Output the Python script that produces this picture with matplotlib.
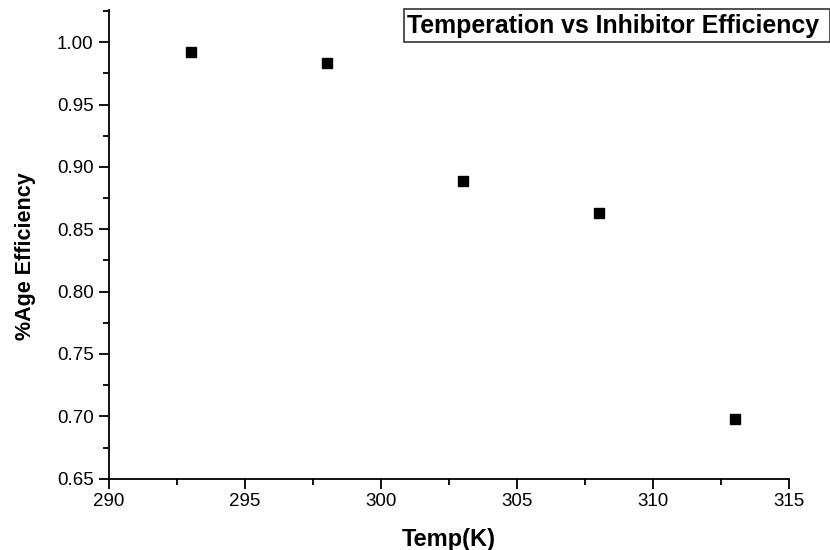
import matplotlib
matplotlib.use("Agg")
import matplotlib.pyplot as plt
from matplotlib.patches import Rectangle
from matplotlib.ticker import MultipleLocator, FormatStrFormatter

plt.rcParams['font.family'] = ['Liberation Sans', 'DejaVu Sans']

temps = [293, 298, 303, 308, 313]
efficiency = [0.992, 0.983, 0.889, 0.863, 0.698]

W, H = 830, 550
fig = plt.figure(figsize=(W / 100, H / 100), dpi=100)
ax = fig.add_axes([109 / W, 1 - 478.7 / H, (789 - 109) / W, (478.7 - 10) / H])

ax.plot(temps, efficiency, linestyle='none', marker='s', markersize=6.5,
        color='black')

ax.set_xlim(290, 315)
ax.set_ylim(0.65, 1.0258)
ax.xaxis.set_major_locator(MultipleLocator(5))
ax.xaxis.set_minor_locator(MultipleLocator(2.5))
ax.yaxis.set_major_locator(MultipleLocator(0.05))
ax.yaxis.set_minor_locator(MultipleLocator(0.025))
ax.yaxis.set_major_formatter(FormatStrFormatter('%.2f'))

for s in ['top', 'right']:
    ax.spines[s].set_visible(False)
for s in ['left', 'bottom']:
    ax.spines[s].set_linewidth(1.3)
ax.tick_params(which='major', direction='out', length=7, width=1.3,
               labelsize=13.5, pad=4)
ax.tick_params(which='minor', direction='out', length=4, width=1.3)
ax.tick_params(axis='x', which='major', pad=3)

ax.set_xlabel('Temp(K)', fontsize=17, fontweight='bold', labelpad=13)
ax.set_ylabel('%Age Efficiency', fontsize=15.5, fontweight='bold', labelpad=15)
ax.yaxis.label.set_y(0.474)

fig.patches.append(Rectangle((404 / W, 1 - 42 / H), (440 - 14) / W, 33 / H,
                             transform=fig.transFigure, fill=False,
                             edgecolor='#333333', linewidth=1.2))
fig.text(407 / W, 1 - 26 / H, 'Temperation vs Inhibitor Efficiency',
         fontsize=17.9, fontweight='bold', va='center', ha='left')

fig.savefig('out.png', dpi=100)
